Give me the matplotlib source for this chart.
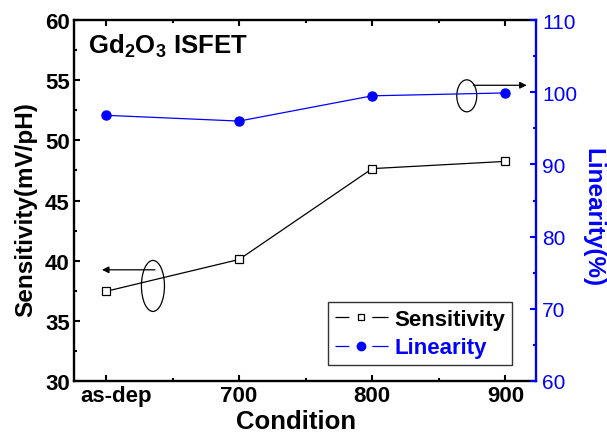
import matplotlib.pyplot as plt
from matplotlib.patches import Ellipse
from matplotlib.lines import Line2D
from matplotlib.legend_handler import HandlerTuple
from matplotlib.ticker import MultipleLocator
from matplotlib.transforms import ScaledTranslation

conditions = ["as-dep", "700", "800", "900"]
sensitivity = [37.45, 40.1, 47.65, 48.25]
linearity = [96.8, 96.0, 99.5, 99.9]

plt.rcParams['font.family'] = 'Liberation Sans'
plt.rcParams['mathtext.fontset'] = 'custom'
plt.rcParams['mathtext.bf'] = 'Liberation Sans:bold'
plt.rcParams['mathtext.rm'] = 'Liberation Sans'
plt.rcParams['lines.scale_dashes'] = False
blue = '#0000ff'

fig = plt.figure(figsize=(6.07, 4.35), dpi=100)
ax = fig.add_axes([74/607, 1-382/435, (536-74)/607, (382-21)/435])
ax2 = ax.twinx()

x = range(len(conditions))
ax.plot(x, sensitivity, color='black', lw=0.9, marker='s', ms=5.5,
        mfc='white', mec='black', mew=0.9)
ax2.plot(x, linearity, color=blue, lw=0.9, marker='o', ms=6.5,
         mfc=blue, mec=blue)

ax.set_xlim(-0.24, 3.23)
ax.set_ylim(30, 60)
ax2.set_ylim(60, 110)
ax.set_xticks(list(x))
ax.set_xticklabels(conditions)
ax.xaxis.set_minor_locator(MultipleLocator(0.5))
ax.yaxis.set_major_locator(MultipleLocator(5))
ax.yaxis.set_minor_locator(MultipleLocator(2.5))
ax2.yaxis.set_major_locator(MultipleLocator(10))
ax2.yaxis.set_minor_locator(MultipleLocator(5))

for s in ['left', 'bottom', 'top']:
    ax.spines[s].set_linewidth(1.7)
ax.spines['right'].set_visible(False)
for s in ['left', 'bottom', 'top']:
    ax2.spines[s].set_visible(False)
ax2.spines['right'].set_linewidth(1.7)
ax2.spines['right'].set_color(blue)

ax.tick_params(which='both', direction='in', top=True, width=1.5, labelsize=16, pad=3)
ax.tick_params(which='major', length=4.5)
ax.tick_params(which='minor', length=2.5)
for lab in ax.get_xticklabels() + ax.get_yticklabels():
    lab.set_fontweight('bold')
xl = ax.get_xticklabels()[0]
xl.set_transform(xl.get_transform() + ScaledTranslation(0.1, 0, fig.dpi_scale_trans))
ax2.tick_params(which='both', direction='in', width=1.5, color=blue,
                labelcolor=blue, labelsize=15, pad=4.5)
ax2.tick_params(which='major', length=4.5)
ax2.tick_params(which='minor', length=2.5)

fig.text(296/607, 1-429/435, 'Condition', fontsize=18.5, fontweight='bold',
         ha='center', va='baseline')
fig.text(26/607, 1-210/435, 'Sensitivity(mV/pH)', fontsize=17.5, fontweight='bold',
         rotation=90, ha='center', va='center')
fig.text(593/607, 1-218/435, 'Linearity(%)', fontsize=17.5, fontweight='bold',
         color=blue, rotation=270, ha='center', va='center')

ax.text(0.03, (382-53.3)/361, r'Gd$_\mathbf{2}$O$_\mathbf{3}$ ISFET', transform=ax.transAxes,
        fontsize=18.5, fontweight='bold', va='baseline', ha='left')

# ellipse markers with arrows
ax.add_patch(Ellipse((0.353, 37.9), 0.173, 4.24, fill=False, lw=0.9, ec='black'))
ax.annotate('', xy=(-0.03, 39.24), xytext=(0.368, 39.24),
            arrowprops=dict(arrowstyle='-|>', color='black', lw=0.9,
                            mutation_scale=10, shrinkA=0, shrinkB=0))
ax2.add_patch(Ellipse((2.71, 99.5), 0.15, 4.43, fill=False, lw=0.9, ec='black'))
ax2.annotate('', xy=(3.16, 100.96), xytext=(2.76, 100.96),
             arrowprops=dict(arrowstyle='-|>', color='black', lw=0.9,
                             mutation_scale=10, shrinkA=0, shrinkB=0))

# origin style legend handles: dash, marker, dash
dash = (0, (10, 16.5, 12, 100))
h1 = (Line2D([], [], color='black', lw=0.9, linestyle=dash),
      Line2D([], [], ls='none', marker='s', ms=5, mfc='white', mec='black', mew=0.9))
h2 = (Line2D([], [], color=blue, lw=0.9, linestyle=dash),
      Line2D([], [], ls='none', marker='o', ms=6, mfc=blue, mec=blue))
leg = ax.legend([h1, h2], ['Sensitivity', 'Linearity'],
                handler_map={tuple: HandlerTuple(ndivide=1)},
                loc='lower right', bbox_to_anchor=(0.948, 0.044),
                fontsize=16, frameon=True, fancybox=False, edgecolor='black',
                handlelength=2.39, borderpad=0.3, labelspacing=0.35,
                handletextpad=0.3, borderaxespad=0)
leg.get_frame().set_linewidth(1)
for t in leg.get_texts():
    t.set_fontweight('bold')
leg.get_texts()[1].set_color(blue)

fig.savefig('out.png', dpi=100)
